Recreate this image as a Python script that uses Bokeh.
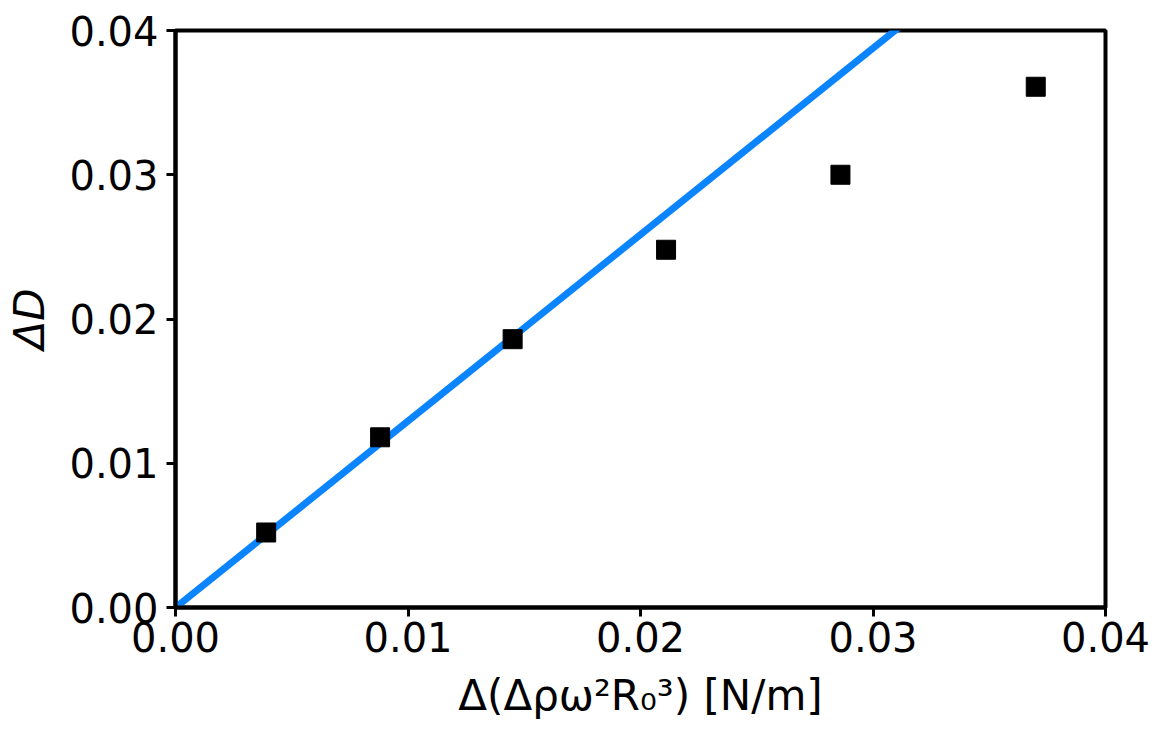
from bokeh.plotting import figure
from bokeh.models import Range1d, FixedTicker, NumeralTickFormatter
from bokeh.embed import file_html
from bokeh.resources import INLINE

# data
x_data = [0.0039, 0.0088, 0.0145, 0.0211, 0.0286, 0.0370]
y_data = [0.0052, 0.0118, 0.0186, 0.0248, 0.0300, 0.0361]
fit_x = [0.0, 0.04]
fit_y = [0.0, 0.0517]
ticks = [0.0, 0.01, 0.02, 0.03, 0.04]

FONT = "DejaVu Sans"

p = figure(width=1167, height=743, output_backend="svg", toolbar_location=None,
           x_range=Range1d(0, 0.04), y_range=Range1d(0, 0.04),
           min_border_left=175, min_border_right=62, min_border_top=30, min_border_bottom=136)
p.grid.visible = False
p.background_fill_color = "white"
p.border_fill_color = "white"
p.outline_line_color = "black"
p.outline_line_width = 4

p.line(fit_x, fit_y, line_color="#0a84ff", line_width=7)
p.scatter(x_data, y_data, marker="square", size=19, fill_color="black", line_color="black")

for ax in (p.xaxis[0], p.yaxis[0]):
    ax.ticker = FixedTicker(ticks=ticks)
    ax.formatter = NumeralTickFormatter(format="0.00")
    ax.axis_line_width = 4
    ax.axis_line_color = "black"
    ax.major_tick_line_width = 3
    ax.major_tick_out = 9
    ax.major_tick_in = 0
    ax.minor_tick_line_color = None
    ax.major_label_text_font = FONT
    ax.major_label_text_font_size = "40px"
    ax.major_label_text_color = "black"
    ax.axis_label_text_font = FONT
    ax.axis_label_text_font_size = "42px"
    ax.axis_label_text_font_style = "normal"
    ax.axis_label_text_color = "black"

p.xaxis.axis_label = "Δ(Δρω²R₀³) [N/m]"
p.xaxis.major_label_standoff = 5
p.xaxis.axis_label_standoff = 16
p.yaxis.axis_label = "ΔD"
p.yaxis.axis_label_text_font_style = "italic"
p.yaxis.major_label_standoff = 8
p.yaxis.axis_label_standoff = 12

open("out.html", "w").write(file_html(p, INLINE))
